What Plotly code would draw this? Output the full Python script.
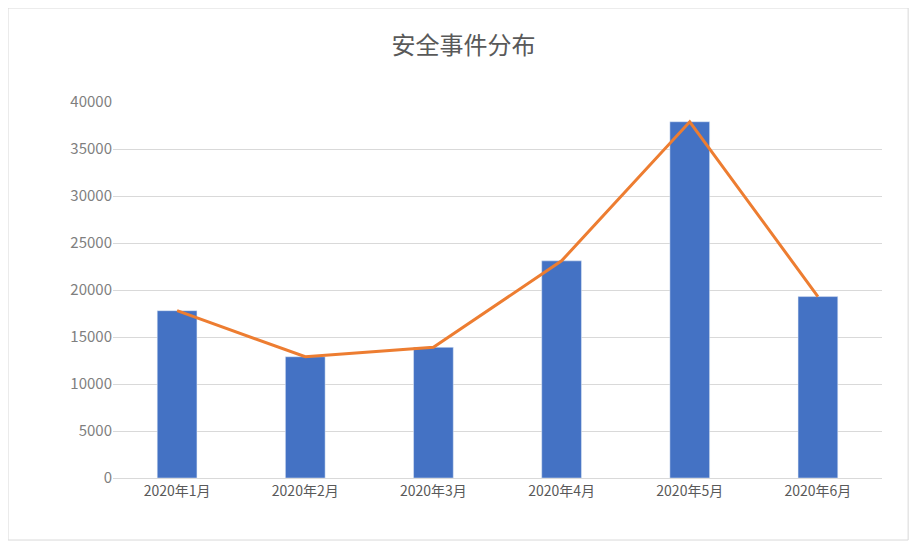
import plotly.graph_objects as go

categories = ["2020年1月", "2020年2月", "2020年3月", "2020年4月", "2020年5月", "2020年6月"]
bar_values = [17800, 12900, 13900, 23100, 37900, 19300]
line_values = [17800, 12900, 13900, 23100, 37900, 19300]
y_ticks = [0, 5000, 10000, 15000, 20000, 25000, 30000, 35000, 40000]
y_tick_labels = [str(v) for v in y_ticks]

fig = go.Figure()
fig.add_trace(go.Bar(x=categories, y=bar_values, marker_color="#4472C4", width=0.31))
fig.add_trace(go.Scatter(x=categories, y=line_values, mode="lines",
                         line=dict(color="#ED7D31", width=3)))
font = "Noto Sans CJK SC"
fig.update_layout(
    width=922, height=554, showlegend=False,
    margin=dict(l=105, r=48, t=94, b=84),
    paper_bgcolor="white", plot_bgcolor="white",
    title=dict(text="安全事件分布", x=0.494, xanchor="center", y=0.933, yanchor="middle",
               font=dict(family=font, size=24, color="#595959")),
    font=dict(family=font, color="#595959", size=14),
    xaxis=dict(showgrid=False, showline=True, linecolor="#D9D9D9", ticks="",
               tickfont=dict(size=14)),
    yaxis=dict(range=[0, 40000], tickvals=y_ticks, ticktext=y_tick_labels,
               showgrid=True, gridcolor="#D9D9D9",
               zeroline=False, ticks="", tickfont=dict(size=15, color="#7F7F7F")),
    shapes=[dict(type="rect", xref="paper", yref="paper",
                 x0=-0.1365, x1=1.034, y0=-0.165, y1=1.25,
                 line=dict(color="#D9D9D9", width=1))],
)
fig.write_html("out.html")
